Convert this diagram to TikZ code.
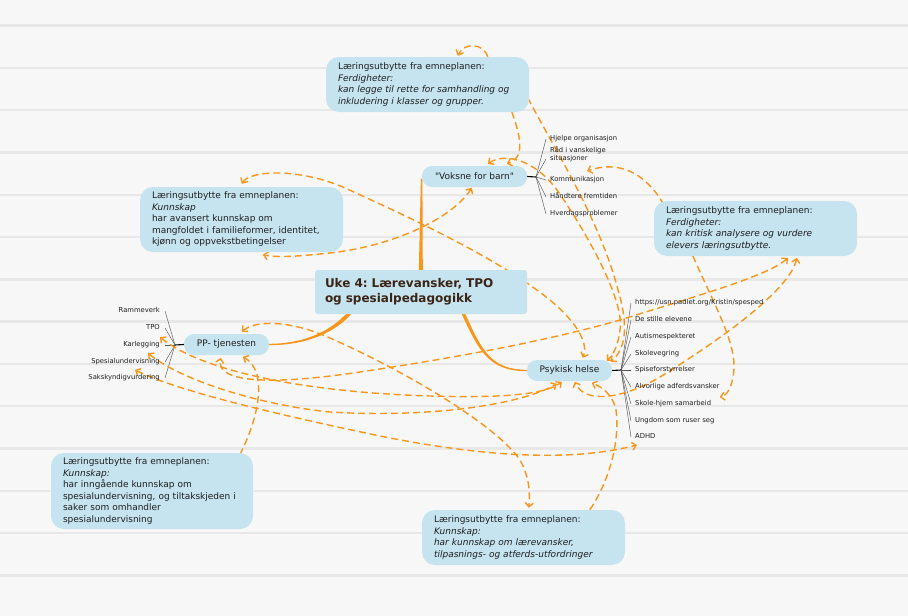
\documentclass[tikz,border=0pt]{standalone}
\usepackage{fontspec}
\setmainfont{DejaVu Sans}[Ligatures=TeXOff]
\usetikzlibrary{arrows.meta,calc}
\frenchspacing
\definecolor{bgc}{HTML}{F7F7F7}
\definecolor{rulec}{HTML}{E8E8E8}
\definecolor{boxc}{HTML}{C6E4F0}
\definecolor{orng}{HTML}{F8961A}
\definecolor{txtc}{HTML}{1E1E1E}
\definecolor{ttlc}{HTML}{3B2416}
\definecolor{fanc}{HTML}{555555}
\pgfdeclarelayer{back}
\pgfdeclarelayer{conn}
\pgfsetlayers{back,conn,main}
\begin{document}
\begin{tikzpicture}[x=1pt,y=-1pt,
  lbox/.style={fill=boxc, rounded corners=13pt, text=txtc, align=left, inner xsep=12pt, inner ysep=2pt,
    font=\fontsize{9}{11.5}\selectfont, anchor=center},
  ttlbox/.style={fill=boxc, rounded corners=3pt, text=ttlc, align=left, inner xsep=10pt, inner ysep=2pt,
    font=\fontsize{12}{15}\selectfont\bfseries, anchor=center},
  topic/.style={fill=boxc, rounded corners=10pt, text=txtc, inner sep=0pt, minimum width=85pt, minimum height=21pt,
    font=\fontsize{9}{11}\selectfont, anchor=center},
  sub/.style={inner sep=0pt, text=txtc, font=\fontsize{6.8}{8}\selectfont, text height=5pt, text depth=1.5pt, align=left},
  fan/.style={draw=fanc, line width=0.45pt},
  stub/.style={draw=black, line width=1.1pt},
  rel/.style={draw=orng, line width=1.4pt, dash pattern=on 7pt off 4pt, -{Straight Barb[length=4pt,width=8pt]}},
  relb/.style={draw=orng, line width=1.4pt, dash pattern=on 7pt off 4pt,
    {Straight Barb[length=4pt,width=8pt]}-{Straight Barb[length=4pt,width=8pt]}},
  branch/.style={fill=orng}
]
\useasboundingbox (0,0) rectangle (908,616);
\begin{pgfonlayer}{back}
  \fill[bgc] (0,0) rectangle (908,616);
  \foreach \k in {0,...,13} {
    \fill[rulec] (0,{25.5+42.3*\k-1.2}) rectangle (908,{25.5+42.3*\k+1.2});
  }
\end{pgfonlayer}

% ---- main boxes
\node[lbox, text width=179pt, minimum height=55pt] (topbox) at (427.5,84.5)
  {Læringsutbytte fra emneplanen:\\\textit{Ferdigheter:}\\\textit{kan legge til rette for samhandling og}\\\textit{inkludering i klasser og grupper.}};
\node[lbox, text width=179pt, minimum height=65pt] (leftbox) at (241.5,219.5)
  {Læringsutbytte fra emneplanen:\\\textit{Kunnskap}\\har avansert kunnskap om\\mangfoldet i familieformer, identitet,\\kjønn og oppvekstbetingelser};
\node[lbox, text width=179pt, minimum height=55pt] (rightbox) at (755.5,228.5)
  {Læringsutbytte fra emneplanen:\\\textit{Ferdigheter:}\\\textit{kan kritisk analysere og vurdere}\\\textit{elevers læringsutbytte.}};
\node[lbox, text width=178pt, minimum height=76pt] (blbox) at (152,491)
  {Læringsutbytte fra emneplanen:\\\textit{Kunnskap:}\\har inngående kunnskap om\\spesialundervisning, og tiltakskjeden i\\saker som omhandler\\spesialundervisning};
\node[lbox, text width=179pt, minimum height=55pt] (botbox) at (523.5,537.5)
  {Læringsutbytte fra emneplanen:\\\textit{Kunnskap:}\\\textit{har kunnskap om lærevansker,}\\\textit{tilpasnings- og atferds-utfordringer}};
\node[ttlbox, text width=192pt, minimum height=44pt] (title) at (421,292)
  {Uke 4: Lærevansker, TPO\\og spesialpedagogikk};

% ---- topics
\node[topic, minimum width=105pt] (voksne) at (474.5,176.5) {"Voksne for barn"};
\node[topic] (pp) at (226.5,344.5) {PP- tjenesten};
\node[topic] (psyk) at (569.5,370.5) {Psykisk helse};

% ---- sub topics of "Voksne for barn"
\node[sub, anchor=west] (v1) at (550,139) {Hjelpe organisasjon};
\node[sub, anchor=west] (raad) at (550,159) {Råd i vanskelige\\situasjoner};
\node[sub, anchor=west] (v3) at (550,180) {Kommunikasjon};
\node[sub, anchor=west] (v4) at (550,197) {Håndtere fremtiden};
\node[sub, anchor=west] (v5) at (550,214) {Hverdagsproblemer};

% ---- sub topics of PP
\node[sub, anchor=east] (ramme) at (160,311) {Rammeverk};
\node[sub, anchor=east] (tpo) at (160,328) {TPO};
\node[sub, anchor=east] (karl) at (160,345) {Karlegging};
\node[sub, anchor=east] (spes) at (160,362) {Spesialundervisning};
\node[sub, anchor=east] (sak) at (160,378) {Sakskyndigvurdering};

% ---- sub topics of Psykisk helse
\node[sub, anchor=west] (p1) at (635,303) {https://usn.padlet.org/Kristin/spesped};
\node[sub, anchor=west] (p2) at (635,320) {De stille elevene};
\node[sub, anchor=west] (p3) at (635,337) {Autismespekteret};
\node[sub, anchor=west] (p4) at (635,354) {Skolevegring};
\node[sub, anchor=west] (p5) at (635,370) {Spiseforstyrrelser};
\node[sub, anchor=west] (alv) at (635,387) {Alvorlige adferdsvansker};
\node[sub, anchor=west] (p7) at (635,404) {Skole-hjem samarbeid};
\node[sub, anchor=west] (p8) at (635,421) {Ungdom som ruser seg};
\node[sub, anchor=west] (adhd) at (635,437) {ADHD};

\coordinate (vjun) at (536,177);
\coordinate (pjun) at (175,345);
\coordinate (sjun) at (621,370);

\begin{pgfonlayer}{conn}
  % junctions and fans
  \draw[stub] (voksne.east) -- (vjun);
  \foreach \n in {v1,raad,v3,v4,v5} \draw[fan] (vjun) -- ($(\n.west)+(-4,0)$);
  \draw[stub] (pp.west) -- (pjun);
  \foreach \n in {ramme,tpo,karl,spes,sak} \draw[fan] (pjun) -- ($(\n.east)+(5,0)$);
  \draw[stub] (psyk.east) -- (sjun);
  \foreach \n in {p1,p2,p3,p4,p5,alv,p7,p8,adhd} \draw[fan] (sjun) -- ($(\n.west)+(-4,0)$);

  % tapered main branches
  \fill[branch] ($(title.north west)+(104,2)$) -- ($(title.north west)+(108,2)$)
     -- ($(voksne.west)+(0.6,2)$) -- ($(voksne.west)+(-0.9,2)$) -- cycle;
  \fill[branch] ($(title.north west)+(36.4,44.4)$) .. controls (331,336.4) and (300,345.2) .. ($(pp.east)+(0,0.7)$)
     -- ($(pp.east)+(0,-0.7)$) .. controls (300,343.8) and (329,333.6) .. ($(title.north west)+(33.6,41.6)$) -- cycle;
  \fill[branch] ($(title.north west)+(149.6,42)$) .. controls (481.3,350) and (491,369.8) .. ($(psyk.west)+(0,-0.7)$)
     -- ($(psyk.west)+(0,0.7)$) .. controls (489,371.2) and (478.7,351) .. ($(title.north west)+(146.4,43)$) -- cycle;

  % relationships
  \draw[rel] ($(topbox.north west)+(162,0)$) .. controls (484,43) and (464,42) .. ($(topbox.north west)+(132,-1)$);
  \draw[rel] ($(topbox.north west)+(186,55)$) .. controls (522,140) and (524,158) .. ($(voksne.north west)+(85,-2)$);
  \draw[relb] ($(voksne.north west)+(66,-2)$) .. controls (505,152) and (535,160) .. (557,190)
     .. controls (585,230) and (625,300) .. (620,330) .. controls (618,345) and (614,354) .. ($(psyk.north west)+(80,1)$);
  \draw[rel] ($(topbox.north west)+(202,41)$) .. controls (555,150) and (600,220) .. (618,290)
     .. controls (630,330) and (624,350) .. ($(psyk.north west)+(84,2)$);
  \draw[rel] ($(rightbox.north west)+(10,4)$) .. controls (650,180) and (625,158) .. ($(raad.west)+(37,12)$);
  \draw[rel] ($(rightbox.north west)+(39,55)$) .. controls (712,300) and (735,340) .. (734,368)
     .. controls (733,388) and (726,396) .. ($(alv.east)+(0,10)$);
  \draw[relb] ($(rightbox.north west)+(143,57)$) .. controls (790,290) and (720,340) .. (660,377)
     .. controls (625,398) and (585,405) .. ($(psyk.north west)+(48,22)$);
  \draw[relb] ($(rightbox.north west)+(134,57)$) .. controls (770,275) and (700,295) .. (620,320)
     .. controls (540,343) and (440,360) .. (360,372) .. controls (280,384) and (215,385) .. ($(pp.north west)+(37,24)$);
  \draw[relb] ($(leftbox.north west)+(102,-3)$) .. controls (250,170) and (300,168) .. (345,188)
     .. controls (420,222) and (500,260) .. (550,300) .. controls (580,325) and (588,345) .. ($(psyk.north west)+(56,-2)$);
  \draw[relb] ($(voksne.north west)+(50,22)$) .. controls (455,215) and (400,245) .. (330,253)
     .. controls (300,256) and (280,258) .. ($(leftbox.north west)+(123,68)$);
  \draw[relb] ($(pp.north west)+(58,-2)$) .. controls (255,320) and (290,320) .. (330,338)
     .. controls (420,378) and (500,430) .. (520,460) .. controls (530,478) and (530,495) .. ($(botbox.north west)+(107,-2)$);
  \draw[relb] ($(tpo.east)+(0,9)$) .. controls (200,370) and (300,392) .. (430,396)
     .. controls (500,398) and (545,395) .. ($(psyk.north west)+(35,22)$);
  \draw[relb] ($(spes.east)+(-12,-9)$) .. controls (180,380) and (260,405) .. (330,412)
     .. controls (430,418) and (520,405) .. ($(psyk.north west)+(30,24)$);
  \draw[relb] ($(sak.east)+(-25,-8)$) .. controls (180,392) and (280,415) .. (380,436)
     .. controls (460,452) and (560,465) .. ($(adhd.west)+(2,8)$);
  \draw[rel] ($(blbox.north west)+(189,2)$) .. controls (255,425) and (262,395) .. (257,375)
     .. controls (254,365) and (249,360) .. ($(pp.north west)+(59,23)$);
  \draw[rel] ($(botbox.north west)+(168,0)$) .. controls (610,480) and (620,440) .. (616,410)
     .. controls (613,395) and (602,387) .. ($(psyk.north west)+(65,23)$);
\end{pgfonlayer}
\end{tikzpicture}
\end{document}
